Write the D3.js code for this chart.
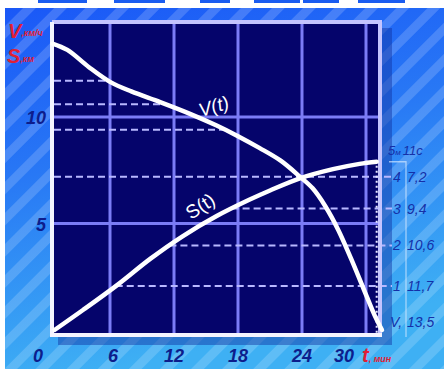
<!DOCTYPE html>
<html><head><meta charset="utf-8">
<script src="https://cdn.jsdelivr.net/npm/d3@7/dist/d3.min.js"></script>
<style>html,body{margin:0;padding:0;background:#fff;overflow:hidden}svg{display:block}</style>
</head><body>
<svg id="c" width="444" height="369"></svg>
<script>
// ---- data ----
const xTicks = [6, 12, 18, 24, 30];
const yTicks = [5, 10];
const vT = [0.6, 2.0, 4.0, 6.0, 8.0, 10.7, 13.5, 16.0, 18.0, 20.0, 22.0, 23.8, 25.0, 26.2, 27.4, 28.6, 29.8, 30.8, 31.5];
const vV = [13.45, 13.15, 12.35, 11.65, 11.2, 10.7, 10.15, 9.6, 9.1, 8.55, 7.95, 7.2, 6.65, 5.8, 4.7, 3.35, 1.9, 0.7, 0.0];
const sT = [0.8, 3.5, 6.7, 9.8, 12.8, 16.0, 19.0, 21.0, 23.8, 26.9, 29.4, 31.0];
const sS = [0.0, 0.95, 2.12, 3.35, 4.4, 5.35, 6.1, 6.55, 7.12, 7.55, 7.8, 7.9];
const markV = [11.7, 10.6, 9.4, 7.2];     // speed at points 1..4
const markS = [2.06, 3.97, 5.7, 7.2];     // distance at points 1..4
const markNum = ["1", "2", "3", "4"];
const markLab = ["11,7", "10,6", "9,4", "7,2"];
const vStartLab = ["V,", "13,5"];
const topLab = ["5", "м", "11с"];

const svg = d3.select("#c");
const defs = svg.append("defs");

const g1 = defs.append("linearGradient").attr("id","bg").attr("x1",0).attr("y1",0).attr("x2",0.25).attr("y2",1);
g1.append("stop").attr("offset","0%").attr("stop-color","#1a58f7");
g1.append("stop").attr("offset","45%").attr("stop-color","#2878f5");
g1.append("stop").attr("offset","100%").attr("stop-color","#3eb0f4");
const pat = defs.append("pattern").attr("id","stripes").attr("width",22).attr("height",22)
  .attr("patternUnits","userSpaceOnUse").attr("patternTransform","rotate(45)");
pat.append("rect").attr("width",9).attr("height",22).attr("fill","#ffffff").attr("opacity",0.17);
const glow = defs.append("filter").attr("id","glow").attr("x","-10%").attr("y","-10%").attr("width","120%").attr("height","120%");
glow.append("feGaussianBlur").attr("stdDeviation",0.6);

svg.append("rect").attr("x",0).attr("y",0).attr("width",444).attr("height",369).attr("fill","#fff");
svg.append("rect").attr("x",5).attr("y",8).attr("width",439).attr("height",361).attr("fill","url(#bg)");
svg.append("rect").attr("x",5).attr("y",8).attr("width",439).attr("height",361).attr("fill","url(#stripes)");
[[38,87],[114,165],[200,230],[254,300],[303,339],[358,405]].forEach(b=>{
  svg.append("rect").attr("x",b[0]).attr("y",0).attr("width",b[1]-b[0]).attr("height",3).attr("fill","#1a5cf0");
});

// ---- scales ----
const x = d3.scaleLinear().domain([0, 30]).range([46, 366]);
const y = d3.scaleLinear().domain([0, 10]).range([330, 117]);
const L = 52, R = 380, T = 22, B = 335;

function tAt(ts, vs, level){
  for (let i=0;i<vs.length-1;i++){
    const a=vs[i], b=vs[i+1];
    if ((a-level)*(b-level) <= 0 && a!==b){ return ts[i] + (level-a)/(b-a)*(ts[i+1]-ts[i]); }
  }
  return ts[ts.length-1];
}

svg.append("rect").attr("x",L+6).attr("y",T+6).attr("width",R-L+6).attr("height",B-T+4).attr("fill","#1030a0").attr("opacity",0.45);
svg.append("rect").attr("x",L).attr("y",T).attr("width",R-L).attr("height",B-T).attr("fill","#05046b");

svg.selectAll(".gx").data(xTicks).join("line").attr("x1",d=>x(d)).attr("x2",d=>x(d))
  .attr("y1",T).attr("y2",B).attr("stroke","#7b7cf6").attr("stroke-width",3);
svg.selectAll(".gy").data(yTicks).join("line").attr("x1",L).attr("x2",R)
  .attr("y1",d=>y(d)).attr("y2",d=>y(d)).attr("stroke","#7b7cf6").attr("stroke-width",3);

const dashC = "#b8b8ff";
svg.selectAll(".dv").data(markV.slice(0,3)).join("line")
  .attr("x1",L+2).attr("x2",d=>x(tAt(vT, vV, d))).attr("y1",d=>y(d)).attr("y2",d=>y(d))
  .attr("stroke",dashC).attr("stroke-width",2).attr("stroke-dasharray","7,4");
svg.selectAll(".ds").data(markS).join("line")
  .attr("x1",(d,i)=> i===3 ? L+2 : x(tAt(sT, sS, d))).attr("x2",392).attr("y1",d=>y(d)).attr("y2",d=>y(d))
  .attr("stroke",dashC).attr("stroke-width",2).attr("stroke-dasharray","7,4");

svg.append("line").attr("x1",x(sT[sT.length-1])).attr("x2",x(sT[sT.length-1])).attr("y1",y(sS[sS.length-1])+4).attr("y2",B-2)
  .attr("stroke","#e8e8ff").attr("stroke-width",2).attr("stroke-dasharray","2,3");

svg.append("path").attr("d",`M${L},${T}H${R}V${B}`).attr("fill","none").attr("stroke","#c4c4ff").attr("stroke-width",4);
svg.append("path").attr("d",`M${L},${T}V${B}H${R+2}`).attr("fill","none").attr("stroke","#f4f4ff").attr("stroke-width",4);

const line = d3.line().x(d=>x(d[0])).y(d=>y(d[1])).curve(d3.curveCatmullRom.alpha(0.5));
const vData = vT.map((t,i)=>[t, vV[i]]);
const sData = sT.map((t,i)=>[t, sS[i]]);
[vData, sData].forEach(dat=>{
  svg.append("path").attr("d",line(dat)).attr("fill","none").attr("stroke","#ffffff")
    .attr("stroke-width",4.5).attr("stroke-linecap","round").attr("filter","url(#glow)");
});

const tf = "Liberation Sans, Arial, sans-serif";
svg.append("text").attr("transform","translate(201,117) rotate(-17)").attr("fill","#fff")
  .attr("font-family",tf).attr("font-size",19).attr("font-style","italic").text("V(t)");
svg.append("text").attr("transform","translate(191,220) rotate(-33)").attr("fill","#fff")
  .attr("font-family",tf).attr("font-size",19).text("S(t)");

const tickC = "#0d1d8c";
svg.selectAll(".xl").data(xTicks).join("text").attr("x",(d,i)=> x(d) + (i===4 ? -22 : (i===0 ? 3 : 0)))
  .attr("y",362).attr("text-anchor","middle").attr("fill",tickC).attr("font-family",tf)
  .attr("font-size",18).attr("font-weight","bold").attr("font-style","italic").text(d=>d);
svg.append("text").attr("x",x(0)-8).attr("y",362).attr("text-anchor","middle").attr("fill",tickC).attr("font-family",tf)
  .attr("font-size",18).attr("font-weight","bold").attr("font-style","italic").text("0");
svg.selectAll(".yl").data(yTicks).join("text").attr("x",46).attr("y",d=>y(d)+7)
  .attr("text-anchor","end").attr("fill",tickC).attr("font-family",tf)
  .attr("font-size",18).attr("font-weight","bold").attr("font-style","italic").text(d=>d);

const red = "#e01f35";
const tt = svg.append("text").attr("x",362).attr("y",362).attr("fill",red).attr("font-family",tf).attr("font-style","italic").attr("font-weight","bold");
tt.append("tspan").attr("font-size",20).text("t");
tt.append("tspan").attr("font-size",9).text(", мин");
const yt1 = svg.append("text").attr("x",8).attr("y",38).attr("fill",red).attr("font-family",tf).attr("font-style","italic").attr("font-weight","bold");
yt1.append("tspan").attr("font-size",20).text("V");
yt1.append("tspan").attr("font-size",9).attr("dy",-2).text(",км/ч");
const yt2 = svg.append("text").attr("x",7).attr("y",63).attr("fill",red).attr("font-family",tf).attr("font-style","italic").attr("font-weight","bold");
yt2.append("tspan").attr("font-size",20).text("S");
yt2.append("tspan").attr("font-size",9).attr("dy",-1).text(",км");

const rc = "#1530a8";
svg.selectAll(".rn").data(markS).join("text").attr("x",397).attr("y",d=>y(d)+5).attr("text-anchor","middle")
  .attr("fill",rc).attr("font-family",tf).attr("font-size",14).attr("font-style","italic").text((d,i)=>markNum[i]);
svg.selectAll(".rv").data(markS).join("text").attr("x",407).attr("y",d=>y(d)+5)
  .attr("fill",rc).attr("font-family",tf).attr("font-size",14).attr("font-style","italic").text((d,i)=>markLab[i]);
svg.append("text").attr("x",390).attr("y",y(0.37)+5).attr("fill",rc).attr("font-family",tf).attr("font-size",14).attr("font-style","italic").text(vStartLab[0]);
svg.append("text").attr("x",407).attr("y",y(0.37)+5).attr("fill",rc).attr("font-family",tf).attr("font-size",14).attr("font-style","italic").text(vStartLab[1]);
const hl = svg.append("text").attr("x",388).attr("y",y(8.45)+5).attr("fill",rc).attr("font-family",tf).attr("font-style","italic");
hl.append("tspan").attr("font-size",13).text(topLab[0]);
hl.append("tspan").attr("font-size",8).text(topLab[1]);
hl.append("tspan").attr("font-size",13).attr("dx",2).text(topLab[2]);

svg.append("path").attr("d",`M389,${y(7.9)}H406V${B+2}`).attr("fill","none").attr("stroke","#cfe6ff").attr("stroke-width",1.3).attr("opacity",0.7);
</script>
</body></html>
